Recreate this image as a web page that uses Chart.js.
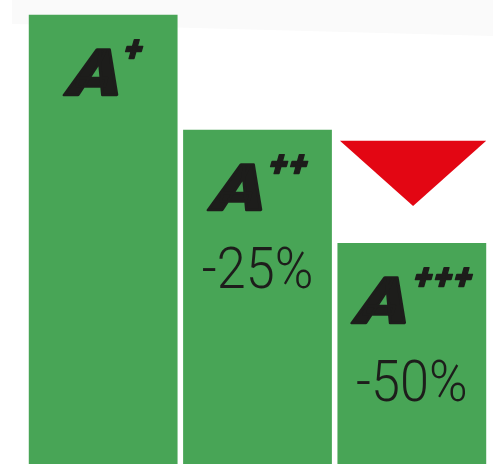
<!DOCTYPE html>
<html>
<head>
<meta charset="utf-8">
<script src="https://cdn.jsdelivr.net/npm/chart.js@4"></script>
<style>
  html, body { margin: 0; padding: 0; background: #fff; }
  #wrap { width: 493px; height: 464px; }
</style>
</head>
<body>
<div id="wrap"><canvas id="chart"></canvas></div>
<script>
// 能效等級與相對耗電量
const classes = ["A+", "A++", "A+++"];
const grades = ["A", "A", "A"];
const pluses = ["+", "++", "+++"];
const consumption = [100, 74.4, 49.2];
const savings = ["", "-25%", "-50%"];

const GREEN = "#48a556";
const RED = "#e30613";
const INK = "#1d1d1b";

// 背景上方的淡灰色條
const bandPlugin = {
  id: "band",
  beforeDraw(chart) {
    const ctx = chart.ctx;
    ctx.save();
    ctx.fillStyle = "#fafafa";
    ctx.beginPath();
    ctx.moveTo(12, 0);
    ctx.lineTo(493, 0);
    ctx.lineTo(493, 36);
    ctx.lineTo(177, 27.5);
    ctx.lineTo(12, 24);
    ctx.closePath();
    ctx.fill();
    ctx.restore();
  },
};

// 畫一段斜體粗字, 左下角放在 (x, bottom), 寬度縮放到 width
const drawOblique = (ctx, text, font, x, bottom, width, stroke) => {
  ctx.font = font;
  const m = ctx.measureText(text);
  const w0 = m.actualBoundingBoxLeft + m.actualBoundingBoxRight;
  const sx = width / w0;
  ctx.save();
  ctx.translate(x, bottom);
  ctx.transform(1, 0, -0.28, 1, 0, 0);
  ctx.scale(sx, 1);
  const bx = m.actualBoundingBoxLeft;
  const by = -m.actualBoundingBoxDescent;
  ctx.fillText(text, bx, by);
  ctx.lineWidth = stroke;
  ctx.lineJoin = "round";
  ctx.strokeText(text, bx, by);
  ctx.restore();
};

// 在長條上畫等級文字、百分比和紅色三角形
const labelPlugin = {
  id: "labels",
  afterDatasetsDraw(chart) {
    const ctx = chart.ctx;
    const bars = chart.getDatasetMeta(0).data;
    ctx.save();
    ctx.fillStyle = INK;
    ctx.strokeStyle = INK;
    bars.forEach((bar, i) => {
      const top = bar.y;
      const n = pluses[i].length;
      const wA = 54;
      const wP = 20 * n - 2;
      const gap = 3 + n;
      const start = bar.x - (wA + gap + wP) / 2;
      drawOblique(ctx, grades[i], "900 64px Roboto, 'Liberation Sans', sans-serif", start - 2, top + 80, wA, 2.5);
      for (let k = 0; k < n; k++) {
        drawOblique(ctx, "+", "900 36px Roboto, 'Liberation Sans', sans-serif", start + wA + gap + 20 * k, top + 43, 17, 1.5);
      }

      if (savings[i]) {
        ctx.font = "300 58px Roboto, 'Liberation Sans', sans-serif";
        const mS = ctx.measureText(savings[i]);
        const wS = mS.actualBoundingBoxLeft + mS.actualBoundingBoxRight;
        ctx.save();
        ctx.translate(bar.x, top + 158);
        ctx.scale(108 / wS, 1);
        ctx.textAlign = "center";
        ctx.fillText(savings[i], 0, 0);
        ctx.restore();
      }
    });

    // 紅色向下三角形
    const b2 = bars[1];
    const b3 = bars[2];
    const left = b3.x - b3.width / 2 + 2.5;
    const right = b3.x + b3.width / 2;
    ctx.fillStyle = RED;
    ctx.beginPath();
    ctx.moveTo(left, b2.y + 11);
    ctx.lineTo(right, b2.y + 11);
    ctx.lineTo((left + right) / 2, b3.y - 37);
    ctx.closePath();
    ctx.fill();
    ctx.restore();
  },
};

new Chart(document.getElementById("chart"), {
  type: "bar",
  data: {
    labels: classes,
    datasets: [
      {
        label: "耗電量",
        data: consumption,
        backgroundColor: GREEN,
        borderWidth: 0,
        barPercentage: 1,
        categoryPercentage: 0.964,
      },
    ],
  },
  options: {
    responsive: true,
    maintainAspectRatio: false,
    animation: false,
    layout: { padding: { left: 26, right: 4, top: 0, bottom: 0 } },
    plugins: {
      legend: { display: false },
      tooltip: { enabled: false },
    },
    scales: {
      x: { display: false },
      y: { display: false, min: 0, max: 103.3 },
    },
  },
  plugins: [bandPlugin, labelPlugin],
});
</script>
</body>
</html>
